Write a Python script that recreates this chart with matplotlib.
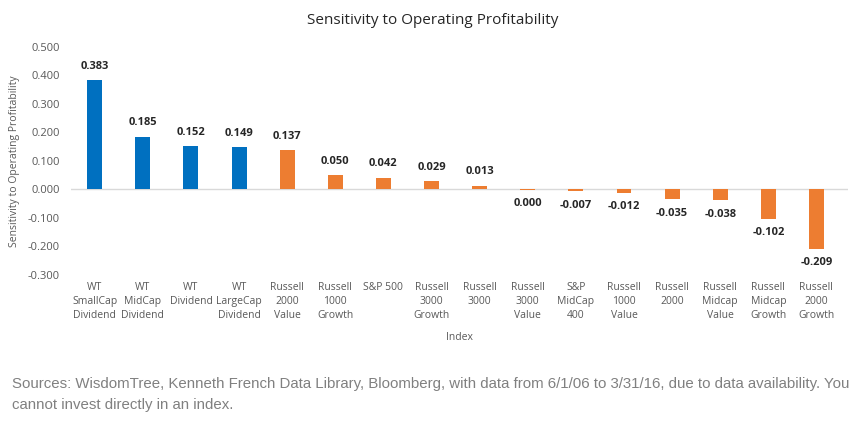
import matplotlib.pyplot as plt
import numpy as np

plt.rcParams['font.family'] = ['Open Sans', 'DejaVu Sans']

indexes = ["WT\nSmallCap\nDividend", "WT\nMidCap\nDividend", "WT\nDividend",
           "WT\nLargeCap\nDividend", "Russell\n2000\nValue", "Russell\n1000\nGrowth",
           "S&P 500", "Russell\n3000\nGrowth", "Russell\n3000", "Russell\n3000\nValue",
           "S&P\nMidCap\n400", "Russell\n1000\nValue", "Russell\n2000",
           "Russell\nMidcap\nValue", "Russell\nMidcap\nGrowth", "Russell\n2000\nGrowth"]
sensitivity = [0.383, 0.185, 0.152, 0.149, 0.137, 0.050, 0.042, 0.029, 0.013,
               -0.0004, -0.007, -0.012, -0.035, -0.038, -0.102, -0.209]
is_wt = [True, True, True, True] + [False] * 12
y_ticks = [0.5, 0.4, 0.3, 0.2, 0.1, 0.0, -0.1, -0.2, -0.3]

blue = "#0070C0"
orange = "#ED7D31"
grey = "#595959"

fig = plt.figure(figsize=(8.65, 4.26), dpi=100)
ax = fig.add_axes([0.0817, 0.3545, 0.8983, 0.5352])

x = np.arange(len(indexes))
colors = [blue if w else orange for w in is_wt]
ax.bar(x, sensitivity, width=0.31, color=colors, zorder=2)

for xi, v in zip(x, sensitivity):
    label = "{:.3f}".format(v)
    if label == "-0.000":
        label = "0.000"
    if v > 0:
        ax.annotate(label, (xi, v), xytext=(0, 6), textcoords="offset points",
                    ha="center", va="bottom", fontsize=8, fontweight="bold",
                    color="#262626")
    else:
        ax.annotate(label, (xi, v), xytext=(0, -6), textcoords="offset points",
                    ha="center", va="top", fontsize=8, fontweight="bold",
                    color="#262626")

ax.set_xlim(-0.5, len(indexes) - 0.35)
ax.set_ylim(-0.3, 0.5)
ax.set_yticks(y_ticks)
ax.set_yticklabels(["{:.3f}".format(t) for t in y_ticks])
ax.set_xticks(x)
ax.set_xticklabels(indexes, linespacing=1.35)
ax.tick_params(axis="both", length=0, labelsize=7.5, colors=grey)
ax.tick_params(axis="y", pad=8, labelsize=8)
ax.tick_params(axis="x", pad=5)
ax.axhline(0, color="#D9D9D9", linewidth=1, zorder=1)
for s in ax.spines.values():
    s.set_visible(False)

ax.set_ylabel("Sensitivity to Operating Profitability", fontsize=7.5, color=grey,
              labelpad=5)
ax.set_xlabel("Index", fontsize=7.5, color=grey, labelpad=8)
fig.text(0.5, 0.952, "Sensitivity to Operating Profitability", ha="center",
         va="center", fontsize=11, color="#262626")

fig.text(0.014, 0.074, "Sources: WisdomTree, Kenneth French Data Library, Bloomberg, "
         "with data from 6/1/06 to 3/31/16, due to data availability. You\n"
         "cannot invest directly in an index.", ha="left", va="center",
         fontsize=10.8, color="#808080", family="Liberation Sans", linespacing=1.6)

fig.savefig("out.png")
